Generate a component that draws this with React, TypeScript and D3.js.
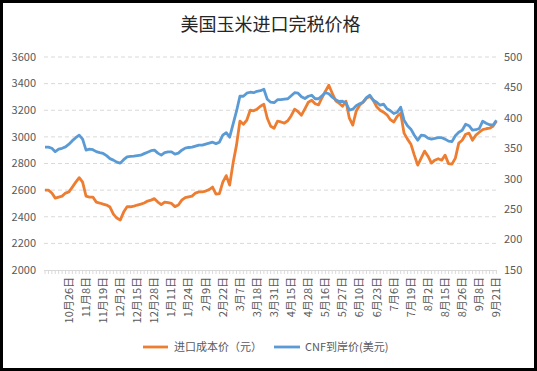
import React from 'react';
import * as d3 from 'd3';

// 进口成本价（元/吨）
const importCost: number[] = [
  2600, 2600, 2578, 2540, 2548, 2555, 2578, 2587, 2623, 2660,
  2694, 2660, 2555, 2548, 2548, 2510, 2503, 2495, 2488, 2473,
  2420, 2390, 2375, 2435, 2475, 2475, 2480, 2488, 2495, 2503,
  2518, 2525, 2536, 2510, 2491, 2510, 2506, 2500, 2476, 2488,
  2525, 2544, 2550, 2555, 2578, 2587, 2587, 2593, 2604, 2623,
  2570, 2574, 2660, 2709, 2638, 2803, 2938, 3118, 3095, 3125,
  3200, 3196, 3208, 3230, 3245, 3140, 3080, 3065, 3118, 3112,
  3103, 3121, 3159, 3208, 3189, 3163, 3211, 3260, 3275, 3249,
  3241, 3294, 3343, 3388, 3328, 3271, 3253, 3230, 3268, 3140,
  3088, 3193, 3238, 3260, 3290, 3305, 3275, 3226, 3200, 3185,
  3166, 3129, 3112, 3155, 3178, 3028, 2983, 2945, 2863, 2788,
  2840, 2893, 2855, 2803, 2825, 2836, 2825, 2863, 2799, 2795,
  2840, 2953, 2975, 3020, 3028, 2975, 3013, 3035, 3054, 3061,
  3065, 3080, 3118,
];

// CNF到岸价（美元/吨）
const cnfPrice: number[] = [
  352, 352, 350, 344.5, 348.6, 350, 352.3, 356.8, 362.5, 367.4,
  371.5, 365, 347, 348.6, 347.7, 344.5, 342.8, 341.5, 337.9, 333,
  330.5, 327.2, 325.6, 331.3, 335.9, 336.6, 337.1, 337.9, 338.7, 341.2,
  343.6, 346.1, 346.9, 342, 338.7, 342.8, 344.1, 344.1, 340.4, 342,
  346.9, 350.2, 351.3, 351.8, 353.5, 355.1, 355.1, 356.8, 358.4, 360,
  357.6, 360, 371.5, 375.6, 368.3, 389.6, 410.9, 435.5, 435.5, 440.5,
  442.1, 441.3, 443.7, 444.6, 447, 430.6, 425.7, 424.9, 429.8, 429.8,
  430.9, 431.4, 436.4, 441.3, 440.5, 434.7, 431.8, 435.5, 437.2, 431.4,
  431.4, 436.4, 441.3, 439.6, 433.9, 429.8, 426.9, 427.3, 424.9, 412.6,
  414.2, 420, 423.2, 425.7, 433.1, 437.2, 429, 425.7, 420.8, 422.5,
  415, 411.7, 407.1, 409.3, 417.5, 396.2, 387.1, 381.4, 371.5, 363.3,
  371.5, 370.7, 366.6, 365, 366.1, 367.4, 367.4, 365, 361.7, 360.9,
  370.7, 376.5, 379.7, 389.6, 387.1, 379.7, 380.5, 382.5, 394.5, 391.2,
  388.8, 387.9, 396.2,
];

const xLabels: string[] = [
  '10月26日', '11月8日', '11月19日', '12月2日', '12月15日', '12月28日',
  '1月11日', '1月24日', '2月9日', '2月22日', '3月7日', '3月18日', '3月31日',
  '4月15日', '4月28日', '5月16日', '5月27日', '6月10日', '6月23日',
  '7月6日', '7月19日', '8月2日', '8月15日', '8月26日', '9月8日', '9月21日',
];
const labelStart = 7;
const labelStep = 5;

const leftTicks = [2000, 2200, 2400, 2600, 2800, 3000, 3200, 3400, 3600];
const rightTicks = [150, 200, 250, 300, 350, 400, 450, 500];

const seriesNames = ['进口成本价（元）', 'CNF到岸价(美元)'];
const colors = ['#ED7D31', '#5B9BD5'];

const W = 537;
const H = 371;
const font = '"Noto Sans CJK SC", "Noto Sans", sans-serif';

export default function App() {
  const left = 44;
  const right = 497;
  const top = 57;
  const bottom = 270;

  const x = d3
    .scaleLinear()
    .domain([0, importCost.length - 1])
    .range([45, 496.4]);
  const yL = d3.scaleLinear().domain([2000, 3600]).range([bottom, top]);
  const yR = d3.scaleLinear().domain([150, 500]).range([bottom, top]);

  const lineL = d3
    .line<number>()
    .x((_, i) => x(i))
    .y((d) => yL(d));
  const lineR = d3
    .line<number>()
    .x((_, i) => x(i))
    .y((d) => yR(d));

  const idx = d3.range(importCost.length);

  return (
    <div style={{ position: 'absolute', left: 0, top: 0 }}>
      <svg width={W} height={H} style={{ display: 'block', background: '#fff' }}>
        <rect x={1.5} y={1.5} width={W - 3} height={H - 3} fill="#fff" stroke="#000" strokeWidth={3} />

        <text
          x={W / 2 + 2}
          y={31}
          textAnchor="middle"
          fontFamily={font}
          fontSize={18}
          fill="#262626"
        >
          美国玉米进口完税价格
        </text>

        {/* grid */}
        {leftTicks.slice(1).map((t) => (
          <line
            key={t}
            x1={left}
            x2={right}
            y1={yL(t)}
            y2={yL(t)}
            stroke="#d9d9d9"
            strokeWidth={1}
            strokeDasharray="4,3"
          />
        ))}
        <line x1={left} x2={right} y1={bottom + 0.5} y2={bottom + 0.5} stroke="#d9d9d9" strokeWidth={1} />
        {idx.map((i) => (
          <line
            key={i}
            x1={x(i)}
            x2={x(i)}
            y1={bottom}
            y2={bottom + 4}
            stroke="#d9d9d9"
            strokeWidth={1}
          />
        ))}

        {/* left axis */}
        {leftTicks.map((t) => (
          <text
            key={t}
            x={36}
            y={yL(t)}
            dy="0.35em"
            textAnchor="end"
            fontFamily={font}
            fontSize={11}
            fill="#595959"
          >
            {t}
          </text>
        ))}

        {/* right axis */}
        {rightTicks.map((t) => (
          <text
            key={t}
            x={504}
            y={yR(t)}
            dy="0.35em"
            textAnchor="start"
            fontFamily={font}
            fontSize={11}
            fill="#595959"
          >
            {t}
          </text>
        ))}

        {/* x labels */}
        {xLabels.map((lab, k) => {
          const px = x(labelStart + k * labelStep);
          return (
            <text
              key={lab}
              transform={`translate(${px},${bottom + 7}) rotate(-90)`}
              textAnchor="end"
              dy="0.35em"
              fontFamily={font}
              fontSize={11}
              fill="#595959"
            >
              {lab}
            </text>
          );
        })}

        {/* series */}
        <path d={lineL(importCost) ?? ''} fill="none" stroke={colors[0]} strokeWidth={2.8} strokeLinejoin="round" />
        <path d={lineR(cnfPrice) ?? ''} fill="none" stroke={colors[1]} strokeWidth={2.8} strokeLinejoin="round" />

        {/* legend */}
        <g fontFamily={font} fontSize={11} fill="#595959">
          <line x1={143} x2={168} y1={347} y2={347} stroke={colors[0]} strokeWidth={2.8} />
          <text x={174} y={347} dy="0.35em">
            {seriesNames[0]}
          </text>
          <line x1={274} x2={300} y1={347} y2={347} stroke={colors[1]} strokeWidth={2.8} />
          <text x={305} y={347} dy="0.35em">
            {seriesNames[1]}
          </text>
        </g>
      </svg>
    </div>
  );
}
